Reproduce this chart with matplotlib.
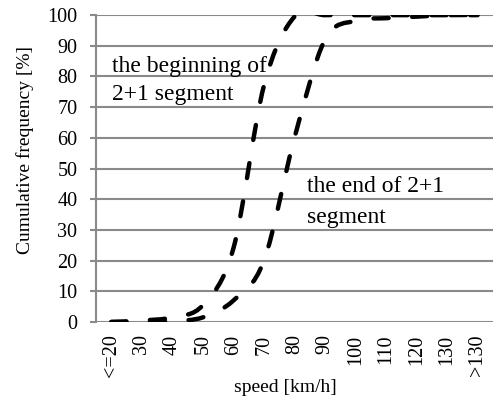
import numpy as np
import matplotlib
matplotlib.use("Agg")
import matplotlib.pyplot as plt
from matplotlib.path import Path
from matplotlib.patches import PathPatch

categories = ["<=20", "30", "40", "50", "60", "70", "80", "90", "100", "110", "120", "130", ">130"]
beginning = [0, 0.5, 1.5, 5.5, 24, 77, 99.5, 100, 100, 100, 100, 100, 100]
end = [0, 0, 0.3, 1.5, 7, 20, 60, 92, 98.2, 99, 99.5, 100, 100]
yticks = [0, 10, 20, 30, 40, 50, 60, 70, 80, 90, 100]

plt.rcParams['font.family'] = ['Liberation Serif', 'DejaVu Serif']

fig = plt.figure(figsize=(4.98, 3.98), dpi=100)
ax = fig.add_axes([0.1928, 0.191, 0.797, 0.771])

grid_c = "#8a8a8a"
for v in yticks:
    ax.axhline(v, color=grid_c, lw=1.5, zorder=1)


def smooth_path(xs, ys):
    xs = np.asarray(xs, float)
    ys = np.asarray(ys, float)
    n = len(xs)
    verts = [(xs[0], ys[0])]
    codes = [Path.MOVETO]
    for i in range(n - 1):
        p0 = np.array([xs[max(i - 1, 0)], ys[max(i - 1, 0)]])
        p1 = np.array([xs[i], ys[i]])
        p2 = np.array([xs[i + 1], ys[i + 1]])
        p3 = np.array([xs[min(i + 2, n - 1)], ys[min(i + 2, n - 1)]])
        c1 = p1 + (p2 - p0) / 6.0
        c2 = p2 - (p3 - p1) / 6.0
        verts += [tuple(c1), tuple(c2), tuple(p2)]
        codes += [Path.CURVE4] * 3
    return Path(verts, codes)


xpos = np.arange(len(categories))
for series in (end, beginning):
    patch = PathPatch(smooth_path(xpos, series), fill=False, edgecolor="black",
                      lw=3.2, linestyle=(0, (3.4, 5.3)), capstyle="round",
                      zorder=3)
    ax.add_patch(patch)

ax.set_xlim(-0.5, len(categories) - 0.5)
ax.set_ylim(0, 100)
ax.set_xticks(xpos)
ax.set_xticklabels(categories, rotation=90, fontsize=14.5)
ax.set_yticks(yticks)
ax.set_yticklabels([str(v) for v in yticks], fontsize=14.5)
ax.tick_params(axis='x', length=0, pad=9)
ax.tick_params(axis='y', length=4.5, width=1.5, color=grid_c, pad=9)

for s in ("top", "right", "bottom"):
    ax.spines[s].set_visible(False)
ax.spines["left"].set_color(grid_c)
ax.spines["left"].set_linewidth(1.5)

ax.set_ylabel("Cumulative frequency [%]", fontsize=14)
ax.set_xlabel("speed [km/h]", fontsize=14)
ax.yaxis.label.set_va("center")
ax.xaxis.label.set_va("center")
ax.yaxis.set_label_coords(-0.18, 0.56)
ax.xaxis.set_label_coords(0.476, -0.215)

ax.text(0.03, 81.5, "the beginning of", fontsize=17, va="baseline", ha="left", zorder=4)
ax.text(0.03, 72.3, "2+1 segment", fontsize=17, va="baseline", ha="left", zorder=4)
ax.text(6.42, 42.4, "the end of 2+1", fontsize=17, va="baseline", ha="left", zorder=4)
ax.text(6.42, 32.2, "segment", fontsize=17, va="baseline", ha="left", zorder=4)

fig.savefig("out.png", dpi=100)
